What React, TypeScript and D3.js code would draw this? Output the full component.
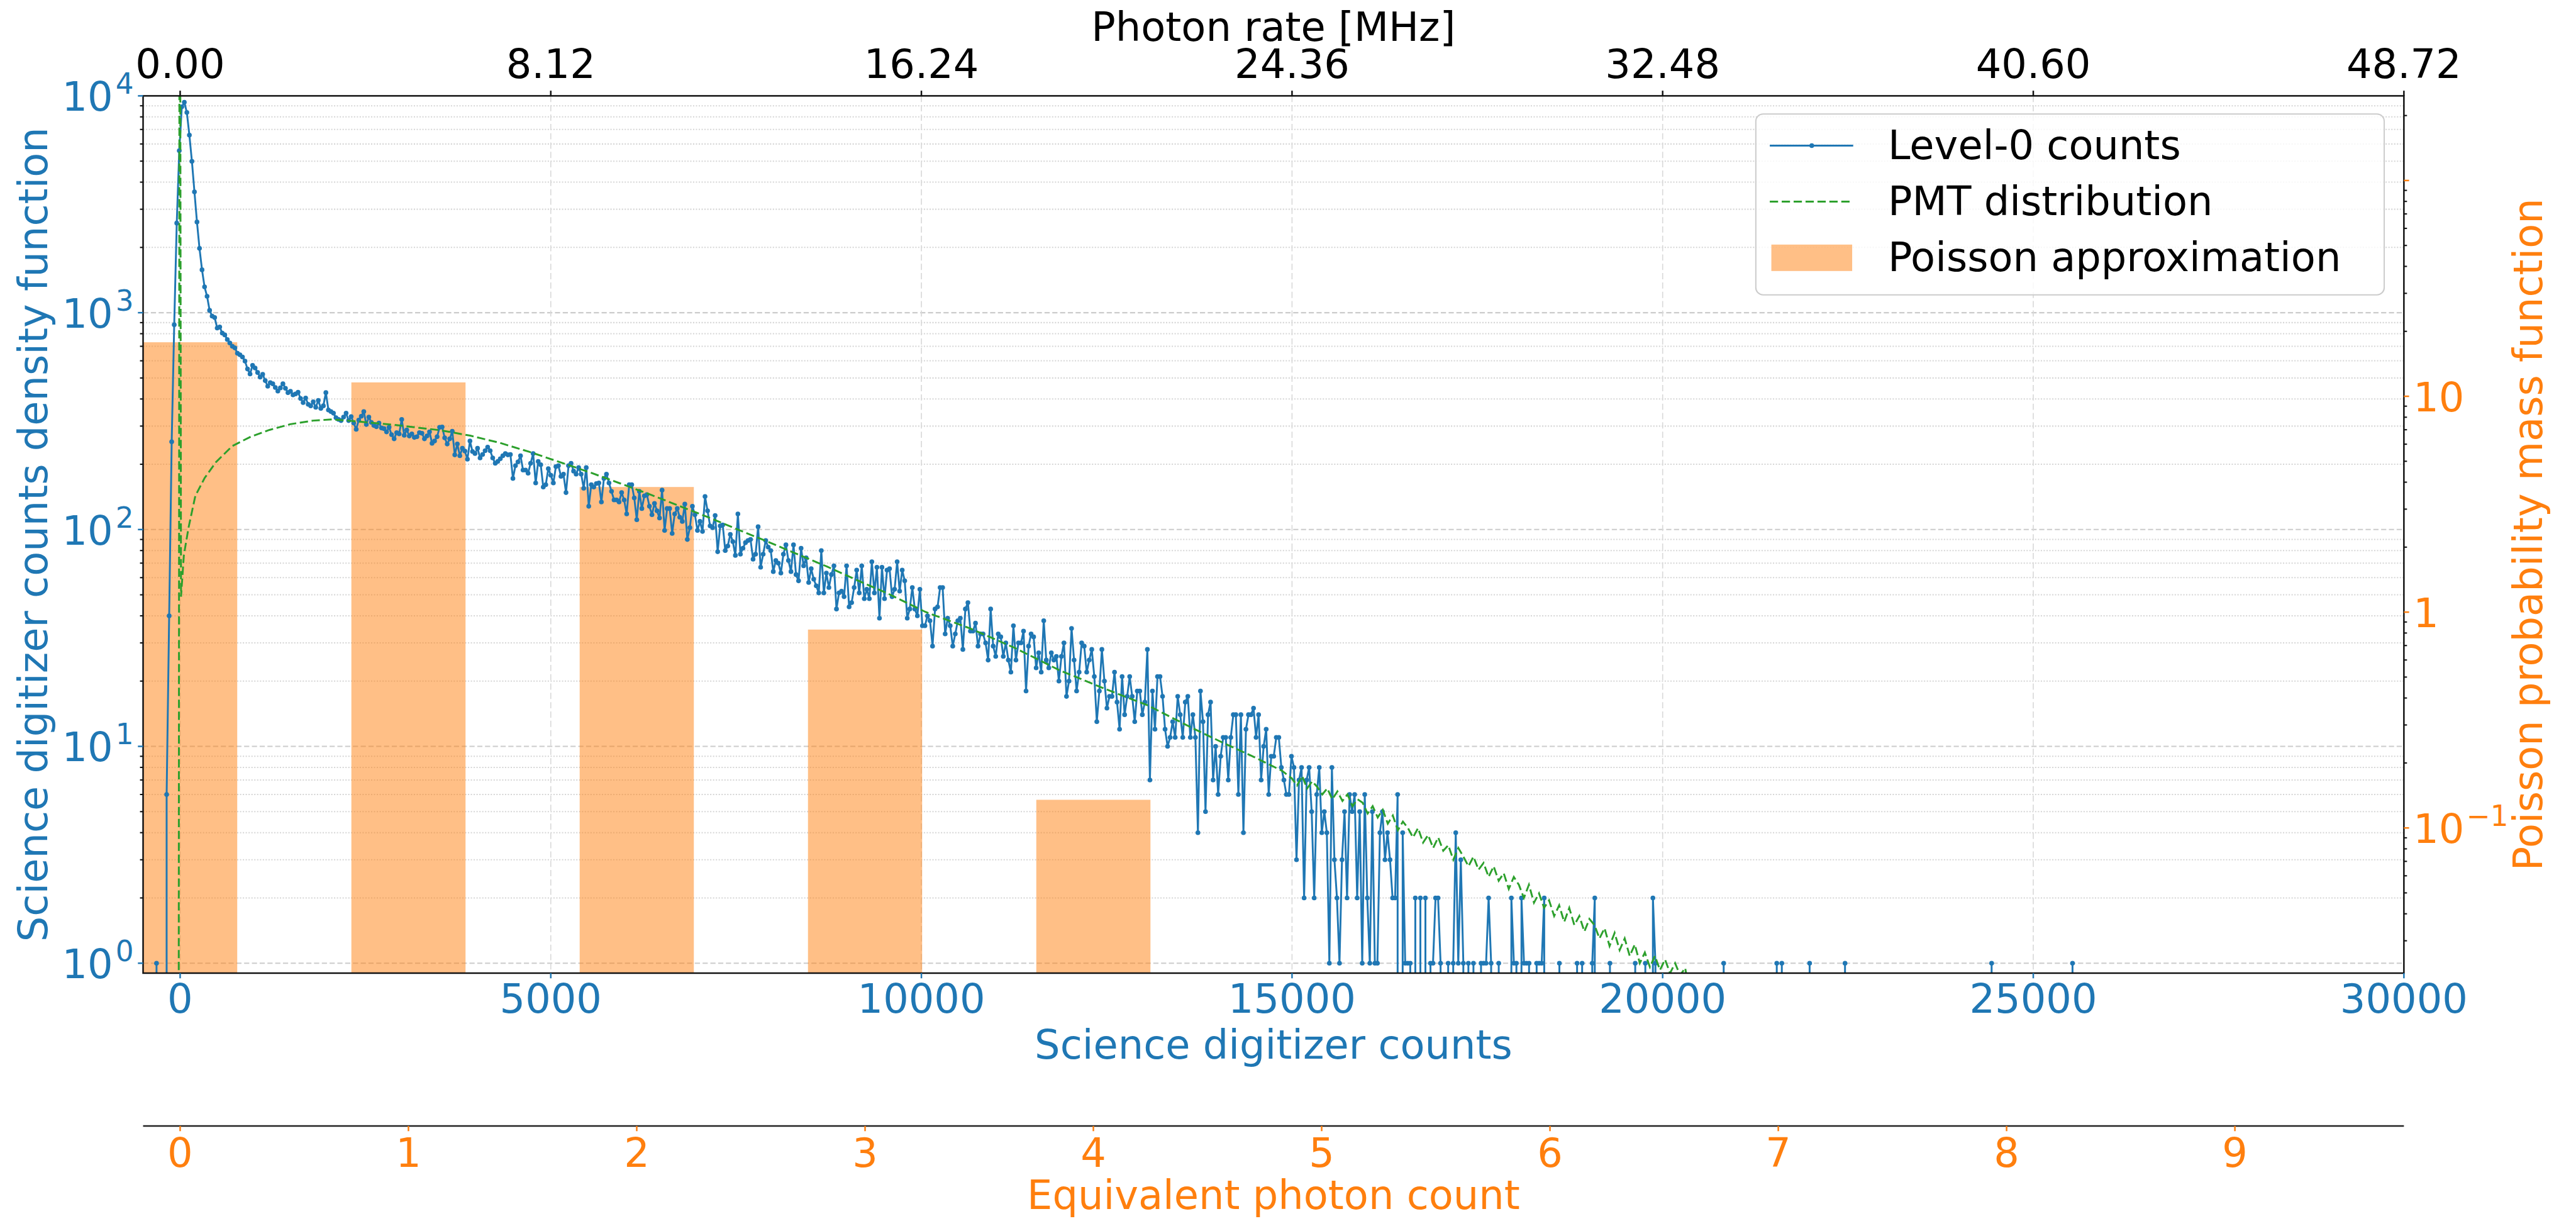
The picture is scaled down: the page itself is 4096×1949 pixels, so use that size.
import React from 'react';
import * as d3 from 'd3';

// ---------------- DATA ----------------
// Level-0 histogram: bin centres start at binStartCounts, spaced binWidthCounts apart
const binStartCounts = -318.6;
const binWidthCounts = 34.1;
const level0Counts: number[] = [
  // peak region
  1, 0, 0, 0, 6, 40, 254, 880, 2590, 5585, 8900, 9350, 8380, 6590, 4990, 3610, 2620, 1980, 1577, 1315, 1190, 1025, 965,
  // shoulder
  950, 850, 860, 805, 790, 752, 725, 700, 688, 650,
  640, 625, 598, 550, 522, 572, 556, 530, 505, 520,
  486, 458, 476, 470, 452, 435, 450, 470, 448, 428,
  434, 418, 422, 430, 402, 385, 404, 378, 372, 388,
  366, 394, 362, 372, 428, 356, 350, 344, 328, 322,
  318, 330, 344, 318, 332, 310, 290, 320, 333, 350,
  305, 330, 312, 302, 298, 310, 294, 292, 282, 296,
  274, 262, 280, 276, 322, 272, 288, 270, 276, 266,
  268, 280, 278, 262, 270, 282, 250, 256, 268, 296,
  // exponential decline
  297, 265, 248, 262, 284, 221, 248, 219, 237, 230, 211, 256, 229, 224, 237, 214, 222, 231, 240, 231,
  214, 202, 206, 212, 219, 224, 221, 222, 172, 197, 205, 219, 188, 188, 182, 202, 224, 164, 206, 199,
  157, 161, 191, 178, 164, 195, 197, 176, 180, 148, 197, 202, 186, 180, 193, 180, 155, 193, 128, 161,
  157, 163, 164, 134, 172, 180, 164, 150, 137, 137, 134, 148, 137, 118, 161, 161, 140, 111, 150, 125,
  143, 145, 128, 117, 132, 122, 113, 152, 99, 125, 125, 96, 118, 125, 114, 109, 131, 90, 102, 128,
  117, 99, 109, 98, 142, 122, 104, 102, 116, 79, 104, 105, 80, 84, 95, 88, 76, 118, 77, 82,
  87, 89, 90, 73, 77, 103, 67, 77, 89, 83, 80, 64, 72, 70, 63, 77, 85, 72, 64, 85,
  62, 58, 82, 68, 74, 57, 66, 59, 55, 51, 80, 51, 63, 54, 62, 68, 43, 51, 52, 49,
  68, 44, 46, 54, 65, 51, 68, 48, 53, 48, 71, 51, 67, 39, 67, 48, 65, 66, 49, 53,
  71, 52, 65, 58,
  39, 43, 54, 43, 40, 53, 36, 36, 40, 38,
  29, 43, 44, 54, 54, 33, 39, 36, 29, 33,
  38, 39, 28, 43, 46, 34, 34, 37, 29,
  33, 33, 30, 25, 43, 29, 26, 33, 32, 26,
  30, 25, 22, 36, 25, 30, 30, 34, 18, 29,
  33, 32, 23, 27, 22, 38, 25, 23, 27, 25,
  26, 20, 26, 30, 17, 20, 35, 25, 18,
  22, 30, 29, 22, 25, 28, 21, 13, 18, 28,
  20, 15, 17, 17, 22, 16, 12, 21, 14, 17,
  21, 17, 13, 18, 18, 14, 16, 28, 7, 18,
  12, 21, 21, 17, 12, 10, 11, 13, 11,
  17, 14, 11, 16, 17, 11, 14, 11, 4, 18,
  13, 5, 14, 16, 7, 10, 6, 9, 11, 11,
  7, 11, 14, 14, 6, 14, 4, 12, 14, 14,
  15, 11, 14, 7, 10, 12, 6, 9, 9,
  11, 11, 8, 7, 6, 6, 9, 8, 3, 7,
  8, 2, 7, 8, 5, 2, 6, 8, 4, 5,
  4, 1, 8, 3, 2, 1, 3, 5,
  // sparse tail
  2, 6, 5, 6, 2, 5, 1, 6, 2, 1,
  5, 1, 1, 4, 5, 3, 4, 3, 2, 2,
  6, 0, 4, 1, 1, 1, 0, 2, 0, 2,
  0, 2, 0, 1, 1, 2, 2, 1, 0, 0,
  1, 0, 1, 4, 1, 3, 1, 0, 1, 0,
  1, 0, 0, 1, 1, 1, 2, 1, 0, 0,
  1, 0, 0, 0, 0, 2, 1, 1, 0, 2,
  1, 1, 1, 0, 0, 1, 1, 1, 2, 0,
  0, 0, 0, 0, 1, 0, 0, 0, 0, 0,
  0, 1, 0, 1, 0, 0, 0, 1, 2, 0,
  0, 0, 0, 0, 1, 0, 0, 0, 0, 0,
  0, 0, 0, 0, 1, 0, 0, 0, 1, 0,
  0, 2, 1,
];
const level0TailBins = [620, 641, 643, 654, 668, 726, 758];
const level0TailValue = 1;
const histogramBinCount = 762;

// PMT distribution (smooth part)
const pmtCounts = [-25, -6, 12, 50, 113, 205, 331, 485, 706, 953, 1205, 1485, 1798, 2047, 2266, 2575, 2890, 3202,
  3512, 3913, 4314, 4714, 5116, 5518, 5919, 6320, 6721, 7122, 7524, 7922, 8326, 8726, 9128, 9530, 10054, 10655,
  11256, 11856, 12462, 13064, 13665, 14066, 14468, 14870];
const pmtDensity = [0.001, 1e6, 49, 76, 102, 143, 173, 205, 243, 268, 288, 306, 318, 322, 318, 311, 304, 295,
  287, 271, 251, 228, 205, 184, 164, 146, 129, 114, 100, 88, 77, 67.5, 58.5, 51, 41.7, 35,
  28.5, 22.5, 18.5, 15.4, 12.1, 10.4, 9.0, 7.7];
// PMT distribution (noisy tail, sampled every pmtTailStep counts)
const pmtTailStart = 15000;
const pmtTailStep = 68;
const pmtTailDensity = [7.1, 6.6, 7.3, 6.4, 6.9, 6.5, 6.0, 6.4, 5.7, 6.2, 5.6, 6.0, 5.3, 5.7, 5.5, 4.9, 5.3, 4.7, 5.1, 4.4,
  4.8, 4.1, 4.5, 4.2, 3.8, 4.2, 3.6, 3.9, 3.4, 3.8, 3.3, 3.5, 3.0, 3.4, 3.1, 2.8, 3.1, 2.7, 2.9, 2.5,
  2.8, 2.4, 2.6, 2.2, 2.5, 2.3, 2.0, 2.3, 1.9, 2.1, 1.8, 1.95, 1.65, 1.85, 1.55, 1.8, 1.5, 1.65, 1.4, 1.6,
  1.5, 1.3, 1.45, 1.2, 1.38, 1.15, 1.3, 1.08, 1.22, 1.0, 1.12, 0.96, 1.08, 0.93, 1.04, 0.9, 1.0, 0.88, 0.95, 0.7];

// Poisson approximation
const poissonPhotons = [0, 1, 2, 3, 4];
const poissonPmf = [17.8, 11.6, 3.8, 0.83, 0.135];

// Axes
const countTicks = [0, 5000, 10000, 15000, 20000, 25000, 30000];
const photonRateLabels = ['0.00', '8.12', '16.24', '24.36', '32.48', '40.60', '48.72'];
const photonCountTicks = [0, 1, 2, 3, 4, 5, 6, 7, 8, 9];
const countsPerPhoton = 3080;
const leftDecades = [0, 1, 2, 3, 4];
const rightMajorTicks = [0.1, 1, 10, 100];
const rightLabels = [
  { v: 10, base: '10', sup: '' },
  { v: 1, base: '1', sup: '' },
  { v: 0.1, base: '10', sup: '\u22121' },
];

// ---------------- LAYOUT ----------------
const W = 4972, H = 2366;
const PL = 276, PR = 4640, PT = 185, PB = 1878;
const FONT = "'DejaVu Sans', sans-serif";
const FS = 77.5;
const BLUE = '#1f77b4', ORANGE = '#ff7f0e', GREEN = '#2ca02c';

export default function App() {
  const xC = d3.scaleLinear().domain([-500, 30000]).range([PL, PR]);
  const yL = d3.scaleLog().domain([0.9, 1e4]).range([PB, PT]);
  const yR = d3.scaleLog().domain([0.02124, 246.7]).range([PB, PT]);
  const xP = (n: number) => xC(n * countsPerPhoton);

  const level0 = d3.range(histogramBinCount).map((i) => ({
    c: binStartCounts + i * binWidthCounts,
    v: i < level0Counts.length ? level0Counts[i] : (level0TailBins.includes(i) ? level0TailValue : 0),
  }));
  const blueLine = d3.line<{ c: number; v: number }>()
    .x((d) => xC(d.c))
    .y((d) => (d.v > 0 ? yL(d.v) : PB + 100000));

  const pmt = pmtCounts.map((c, i) => ({ c, v: pmtDensity[i] }))
    .concat(pmtTailDensity.map((v, k) => ({ c: pmtTailStart + k * pmtTailStep, v })));
  const greenLine = d3.line<{ c: number; v: number }>().x((d) => xC(d.c)).y((d) => yL(d.v));

  const minorLeft: number[] = [];
  for (let k = 0; k < 4; k++) for (let m = 2; m <= 9; m++) minorLeft.push(m * Math.pow(10, k));
  const minorRight: number[] = [];
  for (let k = -2; k <= 2; k++) for (let m = 2; m <= 9; m++) {
    const v = m * Math.pow(10, k);
    if (v > 0.02124 && v < 246.7) minorRight.push(v);
  }

  return (
    <svg width={4096} height={1949} viewBox={`0 0 ${W} ${H}`}
      style={{ position: 'absolute', left: 0, top: 0, display: 'block', background: '#fff' }}
      fontFamily={FONT}>
      <defs>
        <clipPath id="plotclip"><rect x={PL} y={PT} width={PR - PL} height={PB - PT} /></clipPath>
      </defs>
      <rect x={0} y={0} width={W} height={H} fill="#fff" />

      <g clipPath="url(#plotclip)">
        {/* grid */}
        {minorLeft.map((v) => (
          <line key={'gm' + v} x1={PL} x2={PR} y1={yL(v)} y2={yL(v)} stroke="#d6d6d6" strokeWidth={2.5} strokeDasharray="2.5 3" />
        ))}
        {leftDecades.slice(0, 4).map((k) => (
          <line key={'gM' + k} x1={PL} x2={PR} y1={yL(Math.pow(10, k))} y2={yL(Math.pow(10, k))} stroke="#cccccc" strokeWidth={2.5} strokeDasharray="10 5" />
        ))}
        {countTicks.map((c) => (
          <line key={'gv' + c} x1={xC(c)} x2={xC(c)} y1={PT} y2={PB} stroke="#d9d9d9" strokeWidth={2} strokeDasharray="12 6" />
        ))}
        {/* Poisson bars */}
        {poissonPhotons.map((n, i) => (
          <rect key={'bar' + n} x={xP(n - 0.25)} width={xP(n + 0.25) - xP(n - 0.25)}
            y={yR(poissonPmf[i])} height={PB - yR(poissonPmf[i])} fill={ORANGE} fillOpacity={0.5} />
        ))}
        {/* Level-0 counts */}
        <path d={blueLine(level0) || ''} fill="none" stroke={BLUE} strokeWidth={3.6} strokeLinejoin="round" />
        {level0.filter((d) => d.v > 0).map((d, i) => (
          <circle key={'m' + i} cx={xC(d.c)} cy={yL(d.v)} r={4.6} fill={BLUE} />
        ))}
        {/* PMT distribution */}
        <path d={greenLine(pmt) || ''} fill="none" stroke={GREEN} strokeWidth={3.6} strokeDasharray="16 7" />
      </g>

      {/* spines */}
      <rect x={PL} y={PT} width={PR - PL} height={PB - PT} fill="none" stroke="#111" strokeWidth={3} />

      {/* left axis ticks */}
      {minorLeft.map((v) => (
        <line key={'lt' + v} x1={PL - 6} x2={PL} y1={yL(v)} y2={yL(v)} stroke="#111" strokeWidth={2.5} />
      ))}
      {leftDecades.map((k) => (
        <g key={'ld' + k}>
          <line x1={PL - 10} x2={PL} y1={yL(Math.pow(10, k))} y2={yL(Math.pow(10, k))} stroke={BLUE} strokeWidth={3} />
          <text x={258} y={yL(Math.pow(10, k)) + 29} textAnchor="end" fill={BLUE} fontSize={FS}>
            10<tspan dx={5} dy={-33} fontSize={55}>{k}</tspan>
          </text>
        </g>
      ))}
      <text transform={`translate(62,${(PT + PB) / 2}) rotate(-90)`} y={29} textAnchor="middle" fill={BLUE} fontSize={FS}>
        Science digitizer counts density function
      </text>

      {/* right axis */}
      {minorRight.map((v) => (
        <line key={'rt' + v} x1={PR} x2={PR + 6} y1={yR(v)} y2={yR(v)} stroke="#111" strokeWidth={2.5} />
      ))}
      {rightMajorTicks.map((v) => (
        <line key={'rM' + v} x1={PR} x2={PR + 10} y1={yR(v)} y2={yR(v)} stroke={ORANGE} strokeWidth={3} />
      ))}
      {rightLabels.map((r) => (
        <text key={'rl' + r.v} x={4658} y={yR(r.v) + 29} fill={ORANGE} fontSize={FS}>
          {r.base}
          {r.sup ? <tspan dx={4} dy={-33} fontSize={55}>{r.sup}</tspan> : null}
        </text>
      ))}
      <text transform={`translate(4878,${(PT + PB) / 2}) rotate(-90)`} y={29} textAnchor="middle" fill={ORANGE} fontSize={FS}>
        Poisson probability mass function
      </text>

      {/* bottom axis (counts) */}
      {countTicks.map((c) => (
        <g key={'bt' + c}>
          <line x1={xC(c)} x2={xC(c)} y1={PB} y2={PB + 10} stroke={BLUE} strokeWidth={3} />
          <text x={xC(c)} y={1955} textAnchor="middle" fill={BLUE} fontSize={FS}>{c}</text>
        </g>
      ))}
      <text x={(PL + PR) / 2} y={2043} textAnchor="middle" fill={BLUE} fontSize={FS}>Science digitizer counts</text>

      {/* top axis (photon rate) */}
      {countTicks.map((c, i) => (
        <g key={'tt' + c}>
          <line x1={xC(c)} x2={xC(c)} y1={PT - 10} y2={PT} stroke="#111" strokeWidth={3} />
          <text x={xC(c)} y={150} textAnchor="middle" fill="#000" fontSize={FS}>{photonRateLabels[i]}</text>
        </g>
      ))}
      <text x={(PL + PR) / 2} y={79} textAnchor="middle" fill="#000" fontSize={FS}>Photon rate [MHz]</text>

      {/* photon count axis */}
      <line x1={PL} x2={PR} y1={2173} y2={2173} stroke="#222" strokeWidth={3} />
      {photonCountTicks.map((n) => (
        <g key={'pt' + n}>
          <line x1={xP(n)} x2={xP(n)} y1={2173} y2={2183} stroke={ORANGE} strokeWidth={3} />
          <text x={xP(n)} y={2252} textAnchor="middle" fill={ORANGE} fontSize={FS}>{n}</text>
        </g>
      ))}
      <text x={(PL + PR) / 2} y={2333} textAnchor="middle" fill={ORANGE} fontSize={FS}>Equivalent photon count</text>

      {/* legend */}
      <g>
        <rect x={3389} y={220} width={1213} height={349} rx={14} fill="#fff" fillOpacity={0.8} stroke="#cccccc" strokeWidth={2.5} />
        <line x1={3416} x2={3577} y1={281} y2={281} stroke={BLUE} strokeWidth={3.6} />
        <circle cx={3497} cy={281} r={4.6} fill={BLUE} />
        <text x={3644} y={307} fontSize={FS} fill="#000">Level-0 counts</text>
        <line x1={3416} x2={3577} y1={389} y2={389} stroke={GREEN} strokeWidth={3.6} strokeDasharray="16 7" />
        <text x={3644} y={415} fontSize={FS} fill="#000">PMT distribution</text>
        <rect x={3419} y={472} width={156} height={51} fill={ORANGE} fillOpacity={0.5} />
        <text x={3644} y={523} fontSize={FS} fill="#000">Poisson approximation</text>
      </g>
    </svg>
  );
}
